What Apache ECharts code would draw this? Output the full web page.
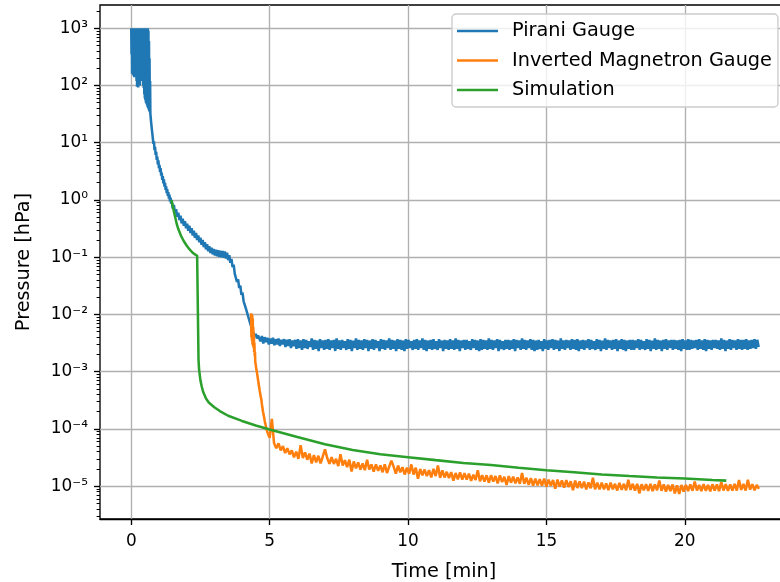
<!DOCTYPE html>
<html><head><meta charset="utf-8">
<script src="https://cdn.jsdelivr.net/npm/echarts@6/dist/echarts.min.js"></script>
<style>html,body{margin:0;padding:0;background:#fff}#c{width:780px;height:582px}</style>
</head><body><div id="c"></div><script>
// ---------- axis definitions ----------
const xTicks = [0, 5, 10, 15, 20];
const yTickExps = [-5, -4, -3, -2, -1, 0, 1, 2, 3];   // labels 10^n
const xRange = [-1.13, 23.73];
const yRange = [2.67e-6, 2547];
const seriesNames = ['Pirani Gauge', 'Inverted Magnetron Gauge', 'Simulation'];

// ---------- Pirani gauge (time [min], pressure [hPa]) ----------
const piraniHead = [
 [0.00,1000],[0.01,350],[0.02,1000],[0.03,160],[0.04,980],[0.05,300],[0.06,1000],[0.07,150],[0.08,1000],[0.09,220],
 [0.10,990],[0.11,140],[0.12,1000],[0.13,260],[0.14,1000],[0.15,150],[0.16,1000],[0.17,180],[0.18,970],[0.19,120],
 [0.20,1000],[0.21,95],[0.22,1000],[0.23,140],[0.24,1000],[0.25,92],[0.26,990],[0.27,110],[0.28,1000],[0.29,150],
 [0.30,1000],[0.31,100],[0.32,1000],[0.33,200],[0.34,1000],[0.35,130],[0.36,990],[0.37,160],[0.38,1000],[0.39,120],
 [0.40,1000],[0.41,140],[0.42,1000],[0.43,100],[0.44,1000],[0.45,90],[0.46,990],[0.47,70],[0.48,1000],[0.49,60],
 [0.50,1000],[0.51,55],[0.52,980],[0.53,50],[0.54,1000],[0.55,48],[0.56,1000],[0.57,45],[0.58,990],[0.59,42],
 [0.60,1000],[0.61,40],[0.62,900],[0.63,38],[0.64,600],[0.65,36],[0.66,300],[0.67,34],[0.68,120],[0.69,32],
 [0.70,31],[0.72,22],[0.74,22],[0.76,14.5],[0.78,14],[0.80,9.6],[0.82,10.6],[0.84,7.4],[0.86,8.5],[0.88,6.1],
 [0.90,6.9],[0.92,5.0],[0.94,5.7],[0.96,4.2],[0.98,4.9],[1.00,3.6],[1.02,4.1],[1.04,3.1],[1.06,3.6],[1.08,2.65],
 [1.10,3.0],[1.12,2.25],[1.14,2.6],[1.16,1.95],[1.18,2.3],[1.20,1.7],[1.22,2.0],[1.24,1.5],[1.26,1.73],[1.28,1.32],
 [1.30,1.55],[1.32,1.18],[1.34,1.37],[1.36,1.05],[1.38,1.24],[1.40,0.94],[1.42,1.1],[1.44,0.86],[1.46,0.98],[1.50,0.71],
 [1.54,0.82],[1.58,0.59],[1.62,0.69],[1.66,0.51],[1.70,0.6],[1.74,0.445],[1.78,0.53],[1.82,0.39],[1.86,0.47],[1.90,0.355],
 [1.94,0.425],[1.98,0.32],[2.02,0.385],[2.06,0.29],[2.10,0.355],[2.14,0.265],[2.18,0.32],[2.22,0.24],[2.26,0.29],[2.30,0.218],
 [2.34,0.265],[2.38,0.2],[2.42,0.24],[2.46,0.182],[2.50,0.22],[2.54,0.165],[2.58,0.2],[2.62,0.15],[2.66,0.183],[2.70,0.137],
 [2.74,0.168],[2.78,0.127],[2.82,0.156],[2.86,0.118],[2.90,0.147],[2.94,0.112],[2.98,0.14],[3.02,0.107],[3.06,0.135],[3.10,0.104],
 [3.14,0.132],[3.18,0.101],[3.22,0.13],[3.26,0.1],[3.30,0.128],[3.34,0.098],[3.38,0.126],[3.42,0.095],[3.46,0.12],[3.50,0.089],
 [3.54,0.108],[3.58,0.08],[3.62,0.093],[3.66,0.067],[3.70,0.074],[3.74,0.051],[3.78,0.055],[3.82,0.037],[3.86,0.041],[3.90,0.029],
 [3.94,0.032],[3.98,0.022],[4.02,0.024],[4.06,0.017],[4.10,0.018],[4.14,0.0128],[4.18,0.0135],[4.22,0.0094],[4.26,0.0098],[4.30,0.0069],
 [4.34,0.0072],[4.38,0.0052],[4.42,0.0054],[4.46,0.0042],[4.50,0.0046],[4.54,0.0038],[4.58,0.0043]
];
const piraniTailStart = 4.62, piraniTailStep = 0.05;
const piraniTail = [
 4.5e-3,3.4e-3,4.2e-3,3.1e-3,4.0e-3,3.3e-3,3.9e-3,3.0e-3,3.8e-3,3.1e-3,
 3.9e-3,2.9e-3,3.7e-3,3.0e-3,3.8e-3,2.8e-3,3.6e-3,3.0e-3,3.7e-3,2.7e-3,
 3.6e-3,2.8e-3,3.7e-3,2.6e-3,3.5e-3,2.8e-3,3.6e-3,2.5e-3,3.7e-3,2.6e-3,
 3.5e-3,2.4e-3,3.7e-3,2.6e-3,3.6e-3,2.5e-3,3.4e-3,2.7e-3,3.8e-3,2.4e-3,
 3.6e-3,2.5e-3,3.5e-3,2.3e-3,3.7e-3,2.6e-3,3.5e-3,2.4e-3,3.6e-3,2.5e-3,
 3.7e-3,2.4e-3,3.5e-3,2.6e-3,3.6e-3,2.3e-3,3.8e-3,2.5e-3,3.5e-3,2.4e-3,
 3.6e-3,2.6e-3,3.4e-3,2.4e-3,3.7e-3,2.5e-3,3.6e-3,2.3e-3,3.5e-3,2.6e-3,
 3.8e-3,2.4e-3,3.6e-3,2.5e-3,3.5e-3,2.4e-3,3.7e-3,2.6e-3,3.6e-3,2.3e-3,
 3.5e-3,2.5e-3,3.7e-3,2.4e-3,3.6e-3,2.6e-3,3.4e-3,2.3e-3,3.7e-3,2.5e-3,
 3.6e-3,2.4e-3,3.5e-3,2.6e-3,3.8e-3,2.4e-3,3.6e-3,2.5e-3,3.5e-3,2.3e-3,
 3.7e-3,2.5e-3,3.6e-3,2.4e-3,3.5e-3,2.3e-3,3.7e-3,2.5e-3,3.6e-3,2.6e-3,
 3.4e-3,2.4e-3,3.6e-3,2.5e-3,3.7e-3,2.4e-3,3.5e-3,2.6e-3,3.8e-3,2.4e-3,
 3.6e-3,2.3e-3,3.5e-3,2.5e-3,3.6e-3,2.4e-3,3.7e-3,2.5e-3,3.4e-3,2.4e-3,
 3.7e-3,2.6e-3,3.5e-3,2.3e-3,3.6e-3,2.5e-3,3.5e-3,2.4e-3,3.7e-3,2.5e-3,
 3.5e-3,2.4e-3,3.8e-3,2.5e-3,3.6e-3,2.3e-3,3.5e-3,2.6e-3,3.6e-3,2.4e-3,
 3.6e-3,2.5e-3,3.4e-3,2.4e-3,3.7e-3,2.6e-3,3.6e-3,2.4e-3,3.5e-3,2.3e-3,
 3.7e-3,2.4e-3,3.6e-3,2.5e-3,3.5e-3,2.4e-3,3.8e-3,2.5e-3,3.6e-3,2.4e-3,
 3.5e-3,2.6e-3,3.7e-3,2.3e-3,3.6e-3,2.5e-3,3.4e-3,2.4e-3,3.6e-3,2.5e-3,
 3.6e-3,2.4e-3,3.5e-3,2.5e-3,3.7e-3,2.3e-3,3.6e-3,2.6e-3,3.5e-3,2.4e-3,
 3.8e-3,2.5e-3,3.6e-3,2.4e-3,3.5e-3,2.6e-3,3.7e-3,2.4e-3,3.6e-3,2.3e-3,
 3.5e-3,2.4e-3,3.6e-3,2.5e-3,3.4e-3,2.3e-3,3.7e-3,2.5e-3,3.5e-3,2.4e-3,
 3.6e-3,2.6e-3,3.7e-3,2.4e-3,3.6e-3,2.5e-3,3.5e-3,2.3e-3,3.8e-3,2.5e-3,
 3.5e-3,2.4e-3,3.6e-3,2.6e-3,3.5e-3,2.4e-3,3.7e-3,2.5e-3,3.6e-3,2.4e-3,
 3.7e-3,2.3e-3,3.5e-3,2.5e-3,3.6e-3,2.4e-3,3.5e-3,2.6e-3,3.7e-3,2.4e-3,
 3.6e-3,2.5e-3,3.4e-3,2.4e-3,3.7e-3,2.5e-3,3.6e-3,2.3e-3,3.5e-3,2.5e-3,
 3.8e-3,2.4e-3,3.6e-3,2.6e-3,3.5e-3,2.4e-3,3.6e-3,2.5e-3,3.7e-3,2.3e-3,
 3.5e-3,2.5e-3,3.7e-3,2.4e-3,3.6e-3,2.3e-3,3.5e-3,2.5e-3,3.6e-3,2.4e-3,
 3.6e-3,2.4e-3,3.5e-3,2.6e-3,3.7e-3,2.4e-3,3.6e-3,2.5e-3,3.4e-3,2.4e-3,
 3.7e-3,2.5e-3,3.6e-3,2.3e-3,3.5e-3,2.5e-3,3.8e-3,2.4e-3,3.6e-3,2.5e-3,
 3.5e-3,2.3e-3,3.6e-3,2.5e-3,3.7e-3,2.4e-3,3.5e-3,2.6e-3,3.6e-3,2.4e-3,
 3.6e-3,2.5e-3,3.5e-3,2.4e-3,3.6e-3,2.3e-3,3.7e-3,2.5e-3,3.5e-3,2.4e-3,
 3.7e-3,2.4e-3,3.6e-3,2.5e-3,3.5e-3,2.6e-3,3.6e-3,2.4e-3,3.7e-3,2.5e-3,
 3.5e-3,2.4e-3,3.7e-3,2.3e-3,3.6e-3,2.5e-3,3.5e-3,2.4e-3,3.6e-3,2.6e-3,
 3.6e-3,2.5e-3,3.5e-3,2.4e-3,3.8e-3,2.5e-3,3.6e-3,2.3e-3,3.5e-3,2.5e-3,
 3.7e-3,2.4e-3,3.6e-3,2.6e-3,3.5e-3,2.4e-3,3.7e-3,2.5e-3,3.6e-3,2.4e-3,
 3.6e-3,2.5e-3,3.7e-3,2.4e-3,3.5e-3,2.5e-3,3.6e-3,2.6e-3,3.7e-3,2.5e-3,
 3.6e-3,2.7e-3
];

// ---------- Inverted magnetron gauge ----------
const imgHead = [
 [4.33,0.0105],[4.34,0.004],[4.35,0.0102],[4.36,0.0035],[4.37,0.0098],[4.38,0.003],[4.39,0.0085],[4.40,0.0028],[4.41,0.006],[4.42,0.0026],
 [4.43,0.0045],[4.44,0.0022],[4.45,0.0032],[4.46,0.0019],[4.47,0.0022],[4.48,0.0015],[4.50,0.0014],[4.52,0.0011],[4.54,0.00105],[4.56,0.00085],
 [4.58,0.0008],[4.60,0.00062],[4.62,0.00058],[4.64,0.00047],[4.66,0.00044],[4.68,0.00036],[4.70,0.00033],[4.72,0.00027],[4.74,0.00025],[4.76,0.0002],
 [4.78,0.000185],[4.80,0.00016],[4.82,0.00014],[4.84,0.000125],[4.86,0.000115],[4.88,0.0001],[4.90,0.000095],[4.92,0.000088],[4.94,0.000085],[4.96,0.000078]
];
const imgTailStart = 5.0, imgTailStep = 0.08;
const imgTail = [
 7.0e-5,15e-5,5.6e-5,4.6e-5,5.6e-5,4.2e-5,5.0e-5,3.8e-5,4.6e-5,3.6e-5,
 4.2e-5,3.2e-5,4.0e-5,3.0e-5,5.2e-5,3.1e-5,3.9e-5,2.9e-5,3.7e-5,2.5e-5,
 3.5e-5,2.6e-5,3.4e-5,2.5e-5,3.3e-5,4.4e-5,3.1e-5,2.45e-5,3.2e-5,2.45e-5,
 3.0e-5,2.25e-5,3.6e-5,2.3e-5,2.85e-5,2.15e-5,2.9e-5,1.8e-5,2.7e-5,2.05e-5,
 2.6e-5,1.95e-5,2.5e-5,1.9e-5,2.9e-5,1.95e-5,2.4e-5,1.8e-5,2.4e-5,1.85e-5,
 2.3e-5,1.75e-5,2.4e-5,1.7e-5,2.2e-5,2.8e-5,2.2e-5,1.65e-5,2.3e-5,1.75e-5,
 2.15e-5,1.6e-5,2.1e-5,1.65e-5,2.4e-5,1.6e-5,2.1e-5,1.35e-5,2.0e-5,1.55e-5,
 1.95e-5,1.5e-5,1.9e-5,1.42e-5,2.0e-5,1.5e-5,2.3e-5,1.4e-5,1.88e-5,1.42e-5,
 1.78e-5,1.38e-5,1.76e-5,1.25e-5,1.7e-5,1.32e-5,1.75e-5,1.3e-5,1.68e-5,1.3e-5,
 1.65e-5,1.24e-5,1.58e-5,1.28e-5,1.9e-5,1.22e-5,1.56e-5,1.2e-5,1.55e-5,1.15e-5,
 1.55e-5,1.2e-5,1.5e-5,1.12e-5,1.55e-5,1.18e-5,1.46e-5,1.05e-5,1.5e-5,1.15e-5,
 1.46e-5,1.12e-5,1.42e-5,1.1e-5,1.7e-5,1.1e-5,1.4e-5,1.05e-5,1.38e-5,1.02e-5,
 1.36e-5,1.03e-5,1.32e-5,1.02e-5,1.36e-5,0.98e-5,1.3e-5,1.02e-5,1.28e-5,0.9e-5,
 1.3e-5,0.98e-5,1.26e-5,0.94e-5,1.27e-5,0.97e-5,1.22e-5,0.85e-5,1.25e-5,0.93e-5,
 1.21e-5,0.93e-5,1.2e-5,0.88e-5,1.16e-5,0.92e-5,1.4e-5,0.88e-5,1.15e-5,0.88e-5,
 1.15e-5,0.88e-5,1.12e-5,0.85e-5,1.15e-5,0.88e-5,1.1e-5,0.84e-5,1.14e-5,0.86e-5,
 1.1e-5,0.85e-5,1.3e-5,0.86e-5,1.1e-5,0.84e-5,1.1e-5,0.75e-5,1.08e-5,0.85e-5,
 1.08e-5,0.83e-5,1.1e-5,0.82e-5,1.07e-5,0.85e-5,1.25e-5,0.83e-5,1.07e-5,0.8e-5,
 1.05e-5,0.82e-5,1.07e-5,0.75e-5,1.03e-5,0.73e-5,1.05e-5,0.8e-5,1.05e-5,0.82e-5,
 1.07e-5,0.83e-5,1.2e-5,0.84e-5,1.05e-5,0.82e-5,1.08e-5,0.83e-5,1.05e-5,0.81e-5,
 1.08e-5,0.84e-5,1.07e-5,0.82e-5,1.18e-5,0.84e-5,1.08e-5,0.83e-5,1.07e-5,0.84e-5,
 1.1e-5,0.84e-5,1.28e-5,0.86e-5,1.09e-5,0.84e-5,1.3e-5,0.87e-5,1.08e-5,0.85e-5,
 1.05e-5,0.9e-5
];

// ---------- Simulation ----------
const simulation = [
 [1.45,1.0],[1.5,0.78],[1.55,0.6],[1.6,0.47],[1.65,0.37],[1.7,0.31],[1.8,0.235],[1.9,0.19],[2.0,0.16],[2.1,0.138],
 [2.2,0.122],[2.3,0.112],[2.38,0.106],[2.42,0.103],[2.43,1.6e-3],[2.45,1.1e-3],[2.5,7e-4],[2.55,5.4e-4],[2.6,4.4e-4],[2.7,3.4e-4],
 [2.8,2.9e-4],[3.0,2.4e-4],[3.2,2.05e-4],[3.5,1.7e-4],[4.0,1.38e-4],[4.5,1.15e-4],[5.0,9.8e-5],[6.0,7.2e-5],[7.0,5.4e-5],[8.0,4.3e-5],
 [9.0,3.6e-5],[10.0,3.2e-5],[11.0,2.85e-5],[12.0,2.55e-5],[13.0,2.35e-5],[14.0,2.1e-5],[15.0,1.9e-5],[16.0,1.75e-5],[17.0,1.6e-5],[18.0,1.5e-5],
 [19.0,1.42e-5],[20.0,1.36e-5],[21.0,1.28e-5],[21.5,1.25e-5]
];

// ---------- build series data ----------
const piraniData = piraniHead.concat(piraniTail.map((v, i) => [+(piraniTailStart + i * piraniTailStep).toFixed(2), v]));
const imgData = imgHead.concat(imgTail.map((v, i) => [+(imgTailStart + i * imgTailStep).toFixed(2), v]));

// decade / minor tick positions on the (exponent) guide axes
const logMin = Math.log10(yRange[0]), logMax = Math.log10(yRange[1]);
const minorTicks = [];
for (let k = -6; k <= 3; k++) for (let m = 2; m <= 9; m++) {
  const e = Math.log10(m * Math.pow(10, k));
  if (e > logMin && e < logMax) minorTicks.push(e);
}
const supMap = {'-':'\u207B','0':'\u2070','1':'\u00B9','2':'\u00B2','3':'\u00B3','4':'\u2074','5':'\u2075','6':'\u2076','7':'\u2077','8':'\u2078','9':'\u2079'};

const FONT = 'DejaVu Sans';
const FS_TICK = 16.9;
const FS_TEXT = 19.3;
const chart = echarts.init(document.getElementById('c'), null, {renderer: 'canvas'});
chart.setOption({
  animation: false,
  backgroundColor: '#fff',
  textStyle: {fontFamily: FONT},
  grid: {left: 100, top: 5, width: 688, height: 514, containLabel: false, outerBoundsMode: 'none',
         show: true, borderColor: '#000', borderWidth: 1.35, backgroundColor: 'transparent'},
  legend: {
    data: seriesNames, orient: 'vertical', left: 452, top: 14,
    icon: 'rect', itemWidth: 41, itemHeight: 2.5, itemGap: 9.5,
    padding: [7, 6, 7, 5],
    backgroundColor: 'rgba(255,255,255,0.8)', borderColor: '#cccccc', borderWidth: 1.35, borderRadius: 4,
    textStyle: {fontFamily: FONT, fontSize: FS_TEXT, color: '#000', lineHeight: 20, padding: [0, 0, 0, 9]}
  },
  xAxis: {
    type: 'value', min: xRange[0], max: xRange[1],
    name: 'Time [min]', nameLocation: 'middle', nameGap: 43,
    nameTextStyle: {fontFamily: FONT, fontSize: FS_TEXT, color: '#000'},
    axisLine: {show: true, onZero: false, lineStyle: {color: '#000', width: 1.35}},
    axisTick: {show: true, length: 6, lineStyle: {color: '#000', width: 1.35}, customValues: xTicks},
    axisLabel: {show: true, margin: 14, fontFamily: FONT, fontSize: FS_TICK, color: '#000', customValues: xTicks},
    splitLine: {show: true, lineStyle: {color: '#b0b0b0', width: 1.35}}
  },
  yAxis: [{
    // data axis: logarithmic scale used by all series
    type: 'log', logBase: 10, min: yRange[0], max: yRange[1],
    axisLine: {show: false, onZero: false},
    axisTick: {show: false}, axisLabel: {show: false}, splitLine: {show: false}
  }, {
    // decade guide axis (exponent space of the same range)
    type: 'value', min: logMin, max: logMax, position: 'left',
    name: 'Pressure [hPa]', nameLocation: 'middle', nameGap: 67,
    nameTextStyle: {fontFamily: FONT, fontSize: FS_TEXT, color: '#000'},
    axisLine: {show: false, onZero: false},
    axisTick: {show: true, length: 6, lineStyle: {color: '#000', width: 1.35}, customValues: yTickExps},
    axisLabel: {show: true, margin: 12, fontFamily: FONT, fontSize: FS_TICK, color: '#000', customValues: yTickExps,
      padding: [4, 0, 0, 0],
      formatter: v => '10' + String(Math.round(v)).split('').map(c => supMap[c]).join('')},
    splitLine: {show: true, lineStyle: {color: '#b0b0b0', width: 1.35}}
  }, {
    // minor tick guide axis
    type: 'value', min: logMin, max: logMax, position: 'left',
    axisLine: {show: false, onZero: false}, axisLabel: {show: false}, splitLine: {show: false},
    axisTick: {show: true, length: 3.4, lineStyle: {color: '#000', width: 1.0}, customValues: minorTicks}
  }],
  series: [
    {name: seriesNames[0], type: 'line', data: piraniData, showSymbol: false, symbol: 'none',
     lineStyle: {color: '#1f77b4', width: 2.54}, itemStyle: {color: '#1f77b4'}, z: 2},
    {name: seriesNames[1], type: 'line', data: imgData, showSymbol: false, symbol: 'none',
     lineStyle: {color: '#ff7f0e', width: 2.54}, itemStyle: {color: '#ff7f0e'}, z: 3},
    {name: seriesNames[2], type: 'line', data: simulation, showSymbol: false, symbol: 'none',
     lineStyle: {color: '#2ca02c', width: 2.54}, itemStyle: {color: '#2ca02c'}, z: 4}
  ]
});
</script></body></html>
